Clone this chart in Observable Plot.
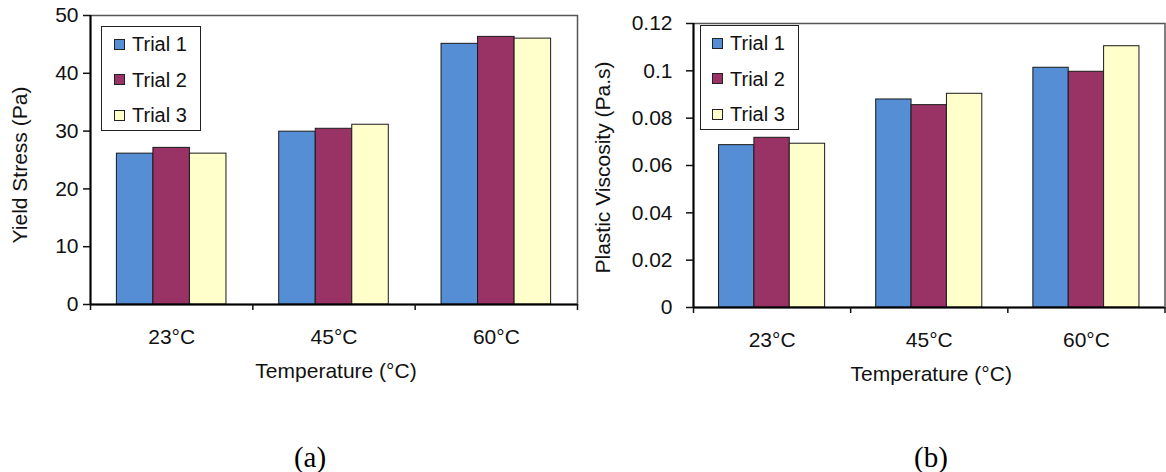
<!DOCTYPE html>
<html><head><meta charset="utf-8">
<script src="https://cdn.jsdelivr.net/npm/d3@7"></script>
<script src="https://cdn.jsdelivr.net/npm/@observablehq/plot@0.6"></script>
<style>
html,body{margin:0;padding:0;background:#fff;}
#wrap{position:relative;width:1166px;height:472px;overflow:hidden;font-family:"Liberation Sans",Arial,sans-serif;color:#111;}
.panel{position:absolute;top:0;}
.legend{position:absolute;background:#fff;border:1.5px solid #222;box-sizing:border-box;}
.legend .item{position:absolute;display:flex;align-items:center;font-size:20px;line-height:20px;color:#111;white-space:nowrap;transform:translateY(-50%);}
.legend .sw{width:11px;height:11px;border:1px solid #222;box-sizing:border-box;margin-right:7px;flex:none;}
.cap{position:absolute;font-family:"Liberation Serif","Times New Roman",serif;font-size:29px;line-height:29px;transform:translate(-50%,-50%);color:#000;}
</style></head>
<body><div id="wrap"></div>
<script>
// ---- data ----
const temperatures = ["23°C", "45°C", "60°C"];
const trials = ["Trial 1", "Trial 2", "Trial 3"];
const yieldStressTrial1 = [26.1, 29.9, 45.1];
const yieldStressTrial2 = [27.1, 30.4, 46.3];
const yieldStressTrial3 = [26.1, 31.1, 46.0];
const viscosityTrial1 = [0.0686, 0.0879, 0.1013];
const viscosityTrial2 = [0.0717, 0.0855, 0.0996];
const viscosityTrial3 = [0.0692, 0.0903, 0.1104];
const yieldTicks = [0, 10, 20, 30, 40, 50];
const viscosityTicks = [0, 0.02, 0.04, 0.06, 0.08, 0.1, 0.12];
const trialColors = ["#558ED5", "#993366", "#FFFFCC"];
const panelLabels = ["(a)", "(b)"];

const BAR = 0.225; // bar width as fraction of category band
const wrap = document.getElementById("wrap");

function makePanel(cfg) {
  const series = cfg.series;
  const rows = temperatures.flatMap((t, i) => trials.map((tr, j) => ({temp: t, i, trial: tr, j, value: series[j][i]})));
  const svg = Plot.plot({
    width: 583, height: 400,
    marginLeft: cfg.ml, marginRight: cfg.mr, marginTop: cfg.mt, marginBottom: cfg.mb,
    x: {domain: [0, temperatures.length]},
    y: {domain: [0, cfg.ticks[cfg.ticks.length - 1]]},
    color: {domain: trials, range: trialColors},
    style: {fontFamily: '"Liberation Sans", Arial, sans-serif', fontSize: "21px", color: "#111", background: "transparent", overflow: "visible"},
    marks: [
      Plot.frame({stroke: "#555", strokeWidth: 1.5}),
      Plot.rectY(rows, {
        x1: d => d.i + 0.5 + (d.j - 1.5) * BAR,
        x2: d => d.i + 0.5 + (d.j - 0.5) * BAR,
        y1: 0, y2: "value", fill: "trial", stroke: "#1a1a1a", strokeWidth: 1
      }),
      Plot.ruleX([0], {stroke: "#000", strokeWidth: 2}),
      Plot.ruleY([0], {stroke: "#000", strokeWidth: 2}),
      Plot.axisY({ticks: cfg.ticks, tickSize: 7, tickPadding: cfg.tp, strokeWidth: 1.5, label: null,
        tickFormat: d => String(+d.toFixed(2))}),
      Plot.axisX({ticks: d3.range(temperatures.length + 1), tickSize: 6, strokeWidth: 1.5, tickFormat: () => "", label: null}),
      Plot.axisX({ticks: temperatures.map((_, i) => i + 0.5), tickSize: 0, tickPadding: 25, label: null,
        tickFormat: v => temperatures[Math.floor(v)]}),
      Plot.text([cfg.yLabel], {frameAnchor: "left", dx: cfg.ydx, dy: cfg.ydy, rotate: -90, lineAnchor: "top", textAnchor: "middle", fontSize: 21}),
      Plot.text(["Temperature (°C)"], {frameAnchor: "bottom", dy: 73, dx: 2, fontSize: 21})
    ]
  });
  const holder = document.createElement("div");
  holder.className = "panel";
  holder.style.left = cfg.left + "px";
  holder.appendChild(svg);
  wrap.appendChild(holder);

  const lg = document.createElement("div");
  lg.className = "legend";
  Object.assign(lg.style, {left: cfg.lg[0] + "px", top: cfg.lg[1] + "px", width: cfg.lg[2] + "px", height: cfg.lg[3] + "px"});
  trials.forEach((tr, j) => {
    const it = document.createElement("div");
    it.className = "item";
    it.style.left = cfg.lgPad + "px";
    it.style.top = (17 + j * 35.5) + "px";
    const sw = document.createElement("span");
    sw.className = "sw";
    sw.style.background = trialColors[j];
    it.appendChild(sw);
    it.appendChild(document.createTextNode(tr));
    lg.appendChild(it);
  });
  wrap.appendChild(lg);

  const cap = document.createElement("div");
  cap.className = "cap";
  cap.textContent = cfg.caption;
  cap.style.left = cfg.capX + "px";
  cap.style.top = "457px";
  wrap.appendChild(cap);
}

makePanel({
  left: 0, ml: 90, mr: 6, mt: 15, mb: 96, tp: 5,
  series: [yieldStressTrial1, yieldStressTrial2, yieldStressTrial3],
  ticks: yieldTicks, yLabel: "Yield Stress (Pa)", ydx: -78, ydy: 5,
  lg: [101, 26, 100, 105], lgPad: 12, caption: panelLabels[0], capX: 310
});
makePanel({
  left: 583, ml: 110, mr: 1.5, mt: 23, mb: 93, tp: 14,
  series: [viscosityTrial1, viscosityTrial2, viscosityTrial3],
  ticks: viscosityTicks, yLabel: "Plastic Viscosity (Pa.s)", ydx: -98, ydy: 2,
  lg: [700, 25, 99, 105], lgPad: 11, caption: panelLabels[1], capX: 931
});
</script></body></html>
